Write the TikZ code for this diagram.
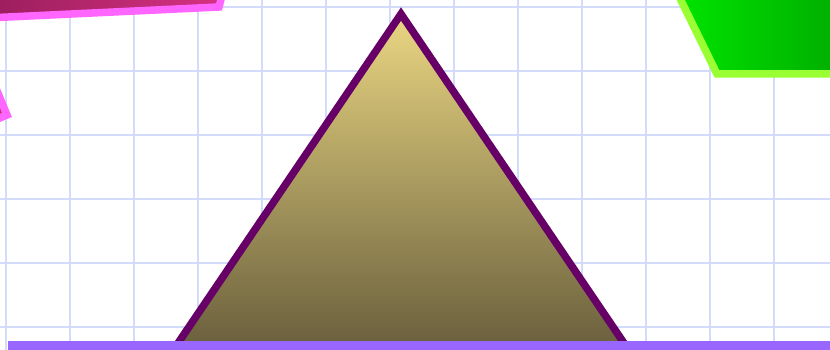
\documentclass[tikz,border=0pt]{standalone}
\usepackage{xcolor}
\usepackage{tikz}
\usetikzlibrary{calc}

\definecolor{gridblue}{RGB}{210,220,250}
\definecolor{pinkedge}{RGB}{255,102,255}
\definecolor{pinkdark}{RGB}{150,28,90}
\definecolor{pinklight}{RGB}{215,50,130}
\definecolor{limeedge}{RGB}{153,255,51}
\definecolor{greenlight}{RGB}{0,230,0}
\definecolor{greendark}{RGB}{0,170,0}
\definecolor{sandtop}{RGB}{234,214,130}
\definecolor{olivebottom}{RGB}{104,94,60}
\definecolor{plumedge}{RGB}{102,0,102}
\definecolor{barviolet}{RGB}{153,102,255}

\begin{document}
\begin{tikzpicture}[x=1pt, y=-1pt, line width=7.5pt]
    % Frame of the picture
    \clip (0,0) rectangle (830,350);
    \fill[white] (0,0) rectangle (830,350);

    % Background grid
    \foreach \gx in {6,70,...,774}
        \draw[gridblue, line width=2pt] (\gx,0) -- (\gx,350);
    \foreach \gy in {7,71,...,327}
        \draw[gridblue, line width=2pt] (0,\gy) -- (830,\gy);

    % Pink shapes cut by the left and top edges
    \shadedraw[draw=pinkedge, left color=pinkdark, right color=pinklight]
        (-30,18.8) -- (219,7) -- (225,-16) -- (-30,-16) -- cycle;
    \shadedraw[draw=pinkedge, left color=pinkdark, right color=pinklight]
        (7,115) -- (-41,-1) -- (-60,-1) -- (-60,135) -- (-41,135) -- cycle;

    % Green shape in the top right corner
    \shadedraw[draw=limeedge, left color=greenlight, right color=greendark]
        (671,-20) -- (717,74) -- (850,74) -- (850,-20) -- cycle;

    % Triangle
    \shadedraw[draw=plumedge, top color=sandtop, bottom color=olivebottom]
        (401,14) -- (630,352) -- (172,352) -- cycle;

    % Bar along the bottom
    \fill[barviolet] (8,341) rectangle (840,360);
\end{tikzpicture}
\end{document}
